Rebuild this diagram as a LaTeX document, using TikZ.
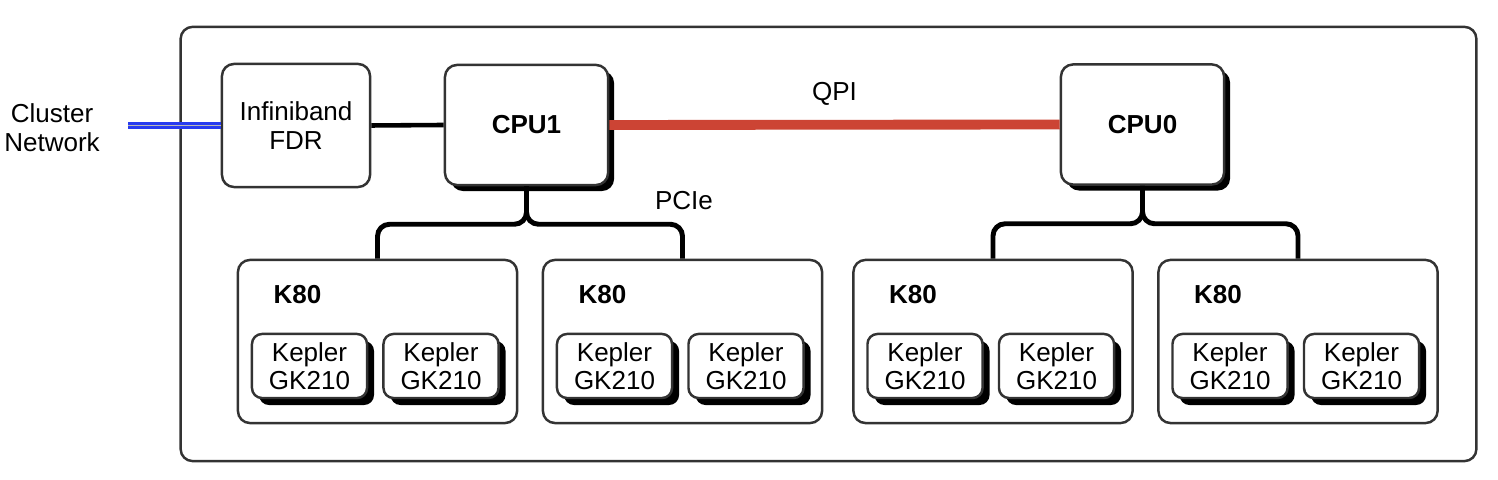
\documentclass[tikz,border=0pt]{standalone}
\usepackage{fontspec}
\setmainfont{Liberation Sans}
\usetikzlibrary{shadows}
\definecolor{netblue}{RGB}{40,60,240}
\definecolor{qpired}{RGB}{204,68,52}
\tikzstyle{box} = [draw=black!80, line width=0.7pt, rounded corners=0.12cm, fill=white, align=center, inner sep=0pt]
\tikzstyle{cpu} = [box, minimum width=1.63cm, minimum height=1.2cm, font=\bfseries,
  drop shadow={shadow xshift=0.06cm, shadow yshift=-0.06cm, fill=black, opacity=1}]
\tikzstyle{gpu} = [box, minimum width=2.79cm, minimum height=1.63cm]
\tikzstyle{chip} = [box, rounded corners=0.1cm, minimum width=1.15cm, minimum height=0.64cm,
  drop shadow={shadow xshift=0.07cm, shadow yshift=-0.07cm, fill=black, opacity=1}]
\tikzstyle{link} = [line width=1.3pt]
\tikzstyle{pcie} = [line width=1.4pt, rounded corners=0.12cm]
\tikzstyle{qpi} = [line width=2.8pt, qpired]
\tikzstyle{ib} = [draw=netblue, line width=0.75pt, double=gray!55, double distance=0.5pt]

\begin{document}
\fontsize{7.4}{8.3}\selectfont
\begin{tikzpicture}[x=0.01cm, y=-0.01cm]
    \useasboundingbox (0,0) rectangle (1498,480);

    \node[box, minimum width=12.95cm, minimum height=4.34cm] (srv) at (828.5,244) {};
    \node[align=center] (net) at (52,128) {Cluster\\Network};
    \coordinate (netend) at (128,125.5);

    \node[box, minimum width=1.48cm, minimum height=1.23cm] (IB) at (296,125.5) {Infiniband\\FDR};
    \node[cpu] (C1) at (526.5,125) {CPU1};
    \node[cpu] (C0) at (1142.5,124.5) {CPU0};

    \foreach \n/\cx in {1/377.5,2/682.5,3/993,4/1298} {
        \node[gpu] (K\n) at (\cx,341.5) {};
        \node[font=\bfseries] at (\cx-80,295) {K80};
        \node[chip] (K\n-a) at (\cx-68,366) {Kepler\\[-0.3pt]GK210};
        \node[chip] (K\n-b) at (\cx+63.5,366) {Kepler\\[-0.3pt]GK210};
    }

    \draw[ib] (netend) -- (IB.west);
    \draw[link] (IB.east) -- (C1.west);
    \draw[qpi] (C1.east) -- node[above=0.06cm, black] {QPI} (C0.west);

    \draw[pcie] (C1.south) -- ++(0,38) -| (K1.north);
    \draw[pcie] (C1.south) -- ++(0,38) -| (K2.north);
    \draw[pcie] (C0.south) -- ++(0,38) -| (K3.north);
    \draw[pcie] (C0.south) -- ++(0,38) -| (K4.north);
    \node (pcie) at (684,201) {PCIe};
\end{tikzpicture}
\end{document}
